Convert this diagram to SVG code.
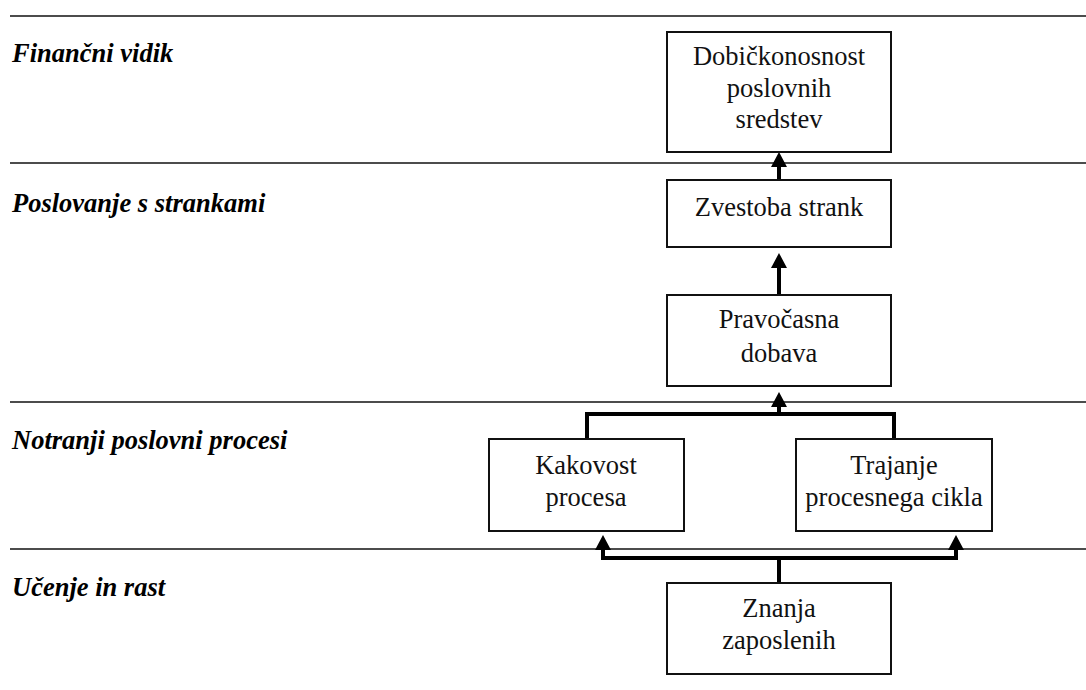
<svg xmlns="http://www.w3.org/2000/svg" width="1086" height="690" viewBox="0 0 1086 690">
  <defs>
    <style>
      .sep { stroke: #111; stroke-width: 1.6; fill: none; }
      .box { fill: #fff; stroke: #111; stroke-width: 2; }
      .lbl { font-family: 'Liberation Serif', 'Times New Roman', serif; font-size: 26.5px; fill: #111; text-anchor: middle; }
      .lane { font-family: 'Liberation Serif', 'Times New Roman', serif; font-size: 26.5px; font-weight: bold; font-style: italic; fill: #000; }
      .wire { stroke: #000; stroke-width: 4; fill: none; stroke-linejoin: miter; }
    </style>
    <!-- upward arrowhead, tip at origin -->
    <polygon id="tip" points="-8,15 0,0 8,15" fill="#000"/>
  </defs>

  <!-- lane separators -->
  <g id="separators">
    <line class="sep" x1="10" y1="16" x2="1086" y2="16"/>
    <line class="sep" x1="10" y1="163" x2="1086" y2="163"/>
    <line class="sep" x1="10" y1="402" x2="1086" y2="402"/>
    <line class="sep" x1="10" y1="549" x2="1086" y2="549"/>
  </g>

  <!-- lane titles -->
  <g id="lanes">
    <text class="lane" x="12" y="62">Finančni vidik</text>
    <text class="lane" x="12" y="212">Poslovanje s strankami</text>
    <text class="lane" x="12" y="449">Notranji poslovni procesi</text>
    <text class="lane" x="12" y="596">Učenje in rast</text>
  </g>

  <!-- connectors -->
  <g id="connectors">
    <line class="wire" x1="779" y1="180" x2="779" y2="166"/>
    <use href="#tip" x="779" y="152"/>
    <line class="wire" x1="779" y1="295" x2="779" y2="267"/>
    <use href="#tip" x="779" y="253"/>
    <path class="wire" d="M587,439 V414 H894 V439"/>
    <line class="wire" x1="779" y1="414" x2="779" y2="406"/>
    <use href="#tip" x="779" y="392"/>
    <path class="wire" d="M603,548 V558 H956 V548"/>
    <line class="wire" x1="779" y1="583" x2="779" y2="558"/>
    <use href="#tip" x="603" y="535"/>
    <use href="#tip" x="956" y="535"/>
  </g>

  <g id="n-dobickonosnost">
    <rect class="box" x="667" y="32" width="224" height="120"/>
    <text class="lbl" x="779" y="65">Dobičkonosnost</text>
    <text class="lbl" x="779" y="97">poslovnih</text>
    <text class="lbl" x="779" y="128">sredstev</text>
  </g>

  <g id="n-zvestoba">
    <rect class="box" x="667" y="180" width="224" height="67"/>
    <text class="lbl" x="779" y="216">Zvestoba strank</text>
  </g>

  <g id="n-pravocasna">
    <rect class="box" x="667" y="295" width="224" height="91"/>
    <text class="lbl" x="779" y="328">Pravočasna</text>
    <text class="lbl" x="779" y="362">dobava</text>
  </g>

  <g id="n-kakovost">
    <rect class="box" x="489" y="439" width="195" height="92"/>
    <text class="lbl" x="586" y="474">Kakovost</text>
    <text class="lbl" x="586" y="506">procesa</text>
  </g>

  <g id="n-trajanje">
    <rect class="box" x="796" y="439" width="196" height="92"/>
    <text class="lbl" x="894" y="474">Trajanje</text>
    <text class="lbl" x="894" y="506">procesnega cikla</text>
  </g>

  <g id="n-znanja">
    <rect class="box" x="667" y="583" width="224" height="91"/>
    <text class="lbl" x="779" y="617">Znanja</text>
    <text class="lbl" x="779" y="649">zaposlenih</text>
  </g>
</svg>
